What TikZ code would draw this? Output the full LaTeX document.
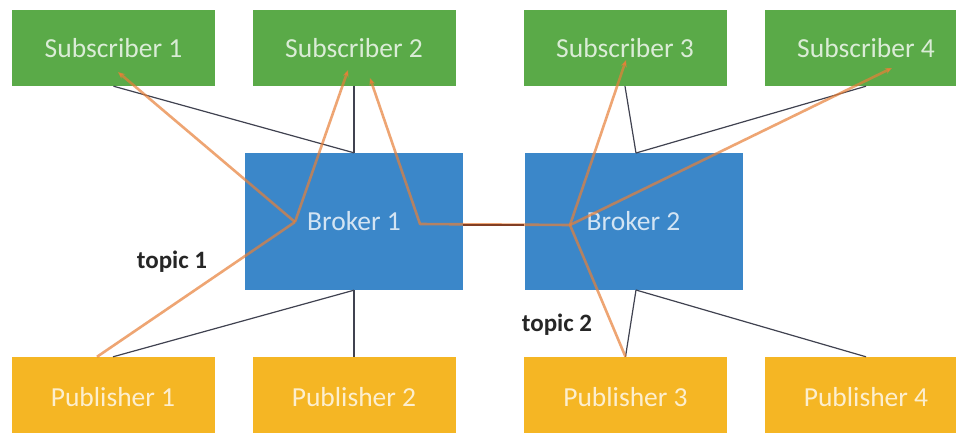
\documentclass[tikz,border=0pt]{standalone}
\usepackage{fontspec}
\setmainfont{Carlito}
\usetikzlibrary{arrows.meta}

\definecolor{subgreen}{RGB}{90,170,72}
\definecolor{brokerblue}{RGB}{59,135,201}
\definecolor{pubyellow}{RGB}{245,182,36}
\definecolor{wire}{RGB}{64,66,80}
\definecolor{topicorange}{RGB}{232,128,56}
\definecolor{bridge}{RGB}{130,62,36}

\begin{document}
\begin{tikzpicture}[x=1pt, y=-1pt,
  box/.style={minimum width=203pt, minimum height=76pt, inner sep=0pt,
    text=white, text opacity=0.78, font=\fontsize{27.5}{31}\selectfont},
  subbox/.style={box, fill=subgreen},
  brokerbox/.style={box, fill=brokerblue, minimum width=218pt, minimum height=137pt},
  pubbox/.style={box, fill=pubyellow, minimum height=80pt},
  wireline/.style={draw=wire, line width=1.2pt},
  topic/.style={draw=topicorange, draw opacity=0.7, line width=2.6pt, line join=round},
  topicarrow/.style={topic, -{Stealth[length=7pt, width=6pt]}},
  topiclabel/.style={font=\bfseries\fontsize{25}{29}\selectfont, text=black!85}]
\clip (0,0) rectangle (956,432);
\fill [white] (0,0) rectangle (956,432);

% subscribers on top
\node [subbox] (sub1) at (113.5,48) {Subscriber 1};
\node [subbox] (sub2) at (354,48) {Subscriber 2};
\node [subbox] (sub3) at (625,48) {Subscriber 3};
\node [subbox] (sub4) at (866,48) {Subscriber 4};

% brokers
\node [brokerbox] (brk1) at (354,221.5) {Broker 1};
\node [brokerbox] (brk2) at (633.5,221.5) {Broker 2};

% publishers at the bottom
\node [pubbox] (pub1) at (113,397) {Publisher 1};
\node [pubbox] (pub2) at (354,397) {Publisher 2};
\node [pubbox] (pub3) at (625.5,397) {Publisher 3};
\node [pubbox] (pub4) at (866,397) {Publisher 4};

% wiring to the brokers
\coordinate (b2top) at (636,153);
\coordinate (b2bot) at (636,290);
\draw [wireline] (sub1.south) -- (brk1.north);
\draw [wireline] (sub2.south) -- (brk1.north);
\draw [wireline] (sub3.south) -- (b2top);
\draw [wireline] (sub4.south) -- (b2top);
\draw [wireline] (pub1.north) -- (brk1.south);
\draw [wireline] (pub2.north) -- (brk1.south);
\draw [wireline] (pub3.north) -- (b2bot);
\draw [wireline] (pub4.north) -- (b2bot);

% routing points
\coordinate (hub1) at (295,222);
\coordinate (hub2) at (570,225);
\coordinate (turn) at (420,224);
\coordinate (s1in) at (118,72);
\coordinate (s2in) at (348,70);
\coordinate (s2back) at (370,78);
\coordinate (s3in) at (626,60);
\coordinate (s4in) at (892,68);

% topic 1
\draw [topic] ([xshift=-16pt]pub1.north) -- (hub1);
\draw [topicarrow] (hub1) -- (s1in);
\draw [topicarrow] (hub1) -- (s2in);

% topic 2
\draw [topic] (pub3.north) -- (hub2);
\draw [topicarrow] (hub2) -- (s3in);
\draw [topicarrow] (hub2) -- (s4in);
\draw [topicarrow] (hub2) -- (turn) -- (s2back);

% link between the brokers
\draw [draw=bridge, line width=1.6pt] (brk1.east |- hub2) -- (brk2.west |- hub2);

\node [topiclabel] (t1) at (172,262) {topic 1};
\node [topiclabel] (t2) at (557,325) {topic 2};
\end{tikzpicture}
\end{document}
